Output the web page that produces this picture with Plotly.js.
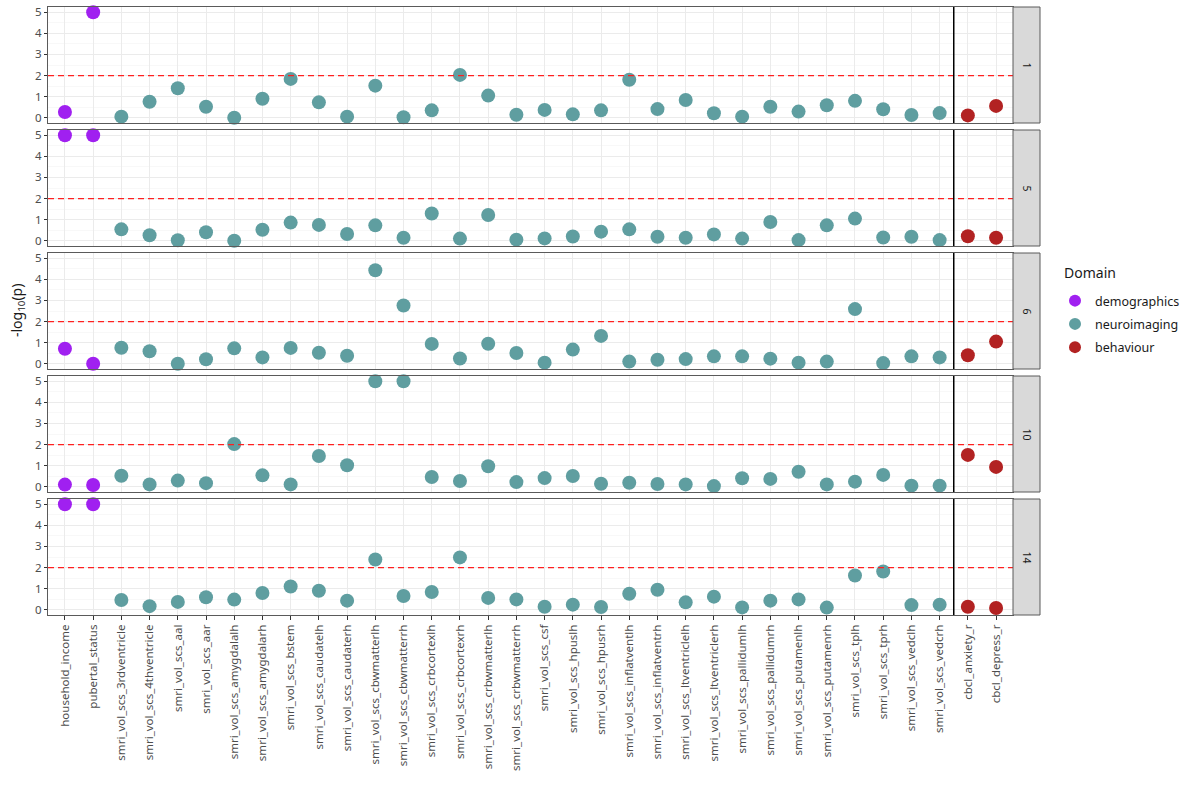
<!DOCTYPE html>
<html>
<head>
<meta charset="utf-8">
<script src="https://cdn.plot.ly/plotly-3.0.1.min.js"></script>
<style>html,body{margin:0;padding:0;background:#fff;}#chart{width:1200px;height:800px;}</style>
</head>
<body>
<div id="chart"></div>
<script>
const categories = ["household_income","pubertal_status","smri_vol_scs_3rdventricle","smri_vol_scs_4thventricle","smri_vol_scs_aal","smri_vol_scs_aar","smri_vol_scs_amygdalalh","smri_vol_scs_amygdalarh","smri_vol_scs_bstem","smri_vol_scs_caudatelh","smri_vol_scs_caudaterh","smri_vol_scs_cbwmatterlh","smri_vol_scs_cbwmatterrh","smri_vol_scs_crbcortexlh","smri_vol_scs_crbcortexrh","smri_vol_scs_crbwmatterlh","smri_vol_scs_crbwmatterrh","smri_vol_scs_csf","smri_vol_scs_hpuslh","smri_vol_scs_hpusrh","smri_vol_scs_inflatventlh","smri_vol_scs_inflatventrh","smri_vol_scs_ltventriclelh","smri_vol_scs_ltventriclerh","smri_vol_scs_pallidumlh","smri_vol_scs_pallidumrh","smri_vol_scs_putamenlh","smri_vol_scs_putamenrh","smri_vol_scs_tplh","smri_vol_scs_tprh","smri_vol_scs_vedclh","smri_vol_scs_vedcrh","cbcl_anxiety_r","cbcl_depress_r"];
const domainOf = ["demographics","demographics","neuroimaging","neuroimaging","neuroimaging","neuroimaging","neuroimaging","neuroimaging","neuroimaging","neuroimaging","neuroimaging","neuroimaging","neuroimaging","neuroimaging","neuroimaging","neuroimaging","neuroimaging","neuroimaging","neuroimaging","neuroimaging","neuroimaging","neuroimaging","neuroimaging","neuroimaging","neuroimaging","neuroimaging","neuroimaging","neuroimaging","neuroimaging","neuroimaging","neuroimaging","neuroimaging","behaviour","behaviour"];
const domainNames = ["demographics","neuroimaging","behaviour"];
const domainColors = ["#A020F0","#5F9EA0","#B22222"];
const panelLabels = ["1","5","6","10","14"];
const p1  = [0.27,5,0.05,0.76,1.4,0.52,0.0,0.9,1.84,0.73,0.05,1.52,0.02,0.35,2.03,1.05,0.14,0.37,0.16,0.35,1.8,0.41,0.84,0.21,0.05,0.52,0.29,0.59,0.8,0.4,0.13,0.22,0.11,0.56];
const p5  = [5,5,0.54,0.26,0.02,0.4,0.0,0.52,0.86,0.75,0.32,0.73,0.14,1.29,0.1,1.22,0.05,0.11,0.2,0.43,0.54,0.19,0.14,0.3,0.1,0.89,0.03,0.73,1.05,0.15,0.19,0.03,0.21,0.14];
const p6  = [0.71,0.0,0.76,0.59,0.0,0.21,0.73,0.3,0.75,0.52,0.38,4.43,2.76,0.94,0.25,0.95,0.51,0.05,0.67,1.32,0.1,0.19,0.22,0.35,0.35,0.24,0.05,0.1,2.59,0.03,0.35,0.3,0.4,1.05];
const p10 = [0.1,0.08,0.52,0.11,0.29,0.17,2.02,0.54,0.11,1.46,1.02,5,5,0.46,0.27,0.97,0.22,0.41,0.51,0.14,0.19,0.13,0.11,0.03,0.4,0.37,0.71,0.11,0.24,0.56,0.05,0.05,1.51,0.94];
const p14 = [5,5,0.46,0.17,0.37,0.59,0.48,0.79,1.1,0.9,0.43,2.38,0.65,0.84,2.48,0.56,0.49,0.14,0.24,0.13,0.76,0.95,0.35,0.62,0.11,0.43,0.49,0.1,1.62,1.81,0.22,0.24,0.14,0.08];
const panelValues = [p1,p5,p6,p10,p14];
const threshold = 2;
const dividerPos = 31.5;

const FONT = "Noto Sans, Open Sans, sans-serif";
const W = 1200, H = 800;
const L = 48, R = 1013, T = 7, B = 615;
const plotH = B - T, plotW = R - L;
const panelTops = [7,130,253,376,499];
const panelH = 116;

const traces = [];
const layout = {
  width: W, height: H,
  margin: {l: L, r: W - R, t: T, b: H - B, pad: 0},
  paper_bgcolor: "#ffffff", plot_bgcolor: "#ffffff",
  font: {family: FONT, color: "#4d4d4d", size: 11},
  showlegend: true,
  legend: {
    x: 1 + (1055 - R) / plotW, xanchor: "left",
    y: (B - 286) / plotH, yanchor: "top",
    font: {size: 12.5, color: "#1a1a1a"},
    bgcolor: "rgba(0,0,0,0)", tracegroupgap: 4, itemsizing: "constant"
  },
  shapes: [], annotations: []
};

panelValues.forEach((vals, i) => {
  const n = i + 1;
  const xs = n === 1 ? "x" : "x" + n;
  const ys = n === 1 ? "y" : "y" + n;
  const yk = n === 1 ? "yaxis" : "yaxis" + n;
  const xk = n === 1 ? "xaxis" : "xaxis" + n;
  const top = panelTops[i];
  const d0 = (B - (top + panelH)) / plotH;
  const d1 = (B - top) / plotH;
  const bottom = i === panelValues.length - 1;
  layout[xk] = {
    domain: [0, 1], anchor: ys, type: "category",
    categoryorder: "array", categoryarray: categories,
    range: [-0.6, categories.length - 0.4],
    showgrid: true, gridcolor: "#EBEBEB", gridwidth: 1,
    zeroline: false, showline: true, mirror: true, linecolor: "#5a5a5a", linewidth: 1,
    showticklabels: bottom, ticks: bottom ? "outside" : "", ticklen: 4, tickcolor: "#333333",
    tickangle: -90, tickfont: {size: 11.5, color: "#4d4d4d"}
  };
  if (n > 1) layout[xk].matches = "x";
  layout[yk] = {
    domain: [d0, d1], anchor: xs,
    range: [-0.25, 5.25], tickmode: "array", tickvals: [0,1,2,3,4,5],
    showgrid: true, gridcolor: "#EBEBEB", gridwidth: 1,
    minor: {tickvals: [0.5,1.5,2.5,3.5,4.5], showgrid: true, gridcolor: "#F4F4F4", gridwidth: 0.6, ticks: ""},
    zeroline: false, showline: true, mirror: true, linecolor: "#5a5a5a", linewidth: 1,
    ticks: "outside", ticklen: 3, tickcolor: "#333333",
    tickfont: {size: 11.5, color: "#4d4d4d"}
  };
  domainNames.forEach((dn, k) => {
    const xv = [], yv = [];
    categories.forEach((c, j) => { if (domainOf[j] === dn) { xv.push(c); yv.push(vals[j]); } });
    traces.push({
      type: "scatter", mode: "markers", x: xv, y: yv, xaxis: xs, yaxis: ys,
      name: dn, legendgroup: dn, showlegend: i === 0,
      marker: {color: domainColors[k], size: 14, line: {width: 0}},
      cliponaxis: false, hoverinfo: "x+y"
    });
  });
  layout.shapes.push({
    type: "line", xref: xs + " domain", x0: 0, x1: 1, yref: ys, y0: threshold, y1: threshold,
    line: {color: "#FF2020", width: 1.3, dash: "6px,4px"}, layer: "above"
  });
  layout.shapes.push({
    type: "line", xref: xs, x0: dividerPos, x1: dividerPos, yref: ys + " domain", y0: 0, y1: 1,
    line: {color: "#000000", width: 1.5}, layer: "above"
  });
  layout.shapes.push({
    type: "rect", xref: "paper", x0: 1, x1: 1 + 27 / plotW, yref: "paper", y0: d0, y1: d1,
    fillcolor: "#D9D9D9", line: {color: "#5a5a5a", width: 1}, layer: "above"
  });
  layout.annotations.push({
    xref: "paper", x: 1 + 13.5 / plotW, yref: "paper", y: (d0 + d1) / 2,
    text: panelLabels[i], showarrow: false, textangle: 90,
    font: {size: 10.5, color: "#1a1a1a"}, xanchor: "center", yanchor: "middle"
  });
});

layout.annotations.push({
  xref: "paper", x: 1 + (1062 - R) / plotW, xanchor: "left",
  yref: "paper", y: (B - 272) / plotH, yanchor: "middle",
  text: "Domain", showarrow: false, font: {size: 14, color: "#1a1a1a"}
});

layout.annotations.push({
  xref: "paper", x: -(L - 17) / plotW, yref: "paper", y: 0.5,
  text: "-log<sub>10</sub>(p)", showarrow: false, textangle: -90,
  font: {size: 14, color: "#1a1a1a"}, xanchor: "center", yanchor: "middle"
});

Plotly.newPlot("chart", traces, layout, {displayModeBar: false, staticPlot: true});
</script>
</body>
</html>
